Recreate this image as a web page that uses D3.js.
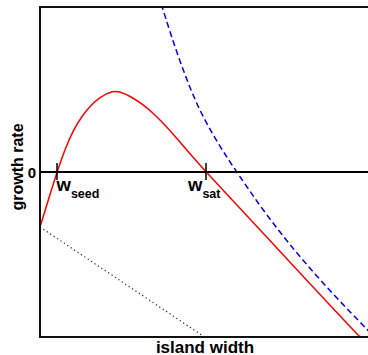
<!DOCTYPE html>
<html>
<head>
<meta charset="utf-8">
<script src="https://cdn.jsdelivr.net/npm/d3@7"></script>
<style>
    body { margin: 0; background: #fff; }
    svg { display: block; }
    text { font-family: "Liberation Sans", Arial, sans-serif; font-weight: bold; fill: #000; }
</style>
</head>
<body>
<svg id="chart" width="368" height="355"></svg>
<script>
// red curve: growth rate vs island width
const growthX = [0, 0.2439, 0.5183, 0.7622, 1.0152, 1.2805, 1.5244, 1.8293, 2.2348, 2.439, 2.7439,
    3.1494, 3.4543, 3.7591, 4.1677, 4.5732, 5.061, 5.8933, 6.9116, 7.9268, 8.9421, 9.7866];
const growthY = [-0.3333, -0.1758, 0, 0.1394, 0.2545, 0.3394, 0.3988, 0.4545, 0.4937, 0.486, 0.4604,
    0.4081, 0.3558, 0.2952, 0.2061, 0.1091, 0, -0.1758, -0.3939, -0.6121, -0.8303, -1.0061];

// blue dashed curve
const dashX = [3.6128, 3.7104, 3.9634, 4.2683, 4.5732, 4.878, 5.2835, 5.6921, 5.997, 6.9116, 7.9268, 8.9421, 9.9604, 10.2134];
const dashY = [1.0727, 1.0091, 0.8485, 0.6697, 0.5091, 0.3697, 0.2212, 0.0909, 0, -0.2648, -0.517, -0.743, -0.9515, -1.003];

// black dotted line
const dotX = [0, 4.97];
const dotY = [-0.3333, -0.994];

// marked zero crossings
const crossNames = ["seed", "sat"];
const crossX = [0.5183, 5.061];

const cfg = {
    left: 40,
    right: 368,
    top: 7,
    bottom: 337,
};

const svg = d3.select("#chart");

const x = d3.scaleLinear().domain([0, 10]).range([cfg.left, cfg.right]);
const y = d3.scaleLinear().domain([-1, 1]).range([cfg.bottom, cfg.top]);

svg.append("defs")
    .append("clipPath")
    .attr("id", "plot-clip")
    .append("rect")
    .attr("x", cfg.left)
    .attr("y", cfg.top)
    .attr("width", cfg.right - cfg.left)
    .attr("height", cfg.bottom - cfg.top);

const plot = svg.append("g").attr("clip-path", "url(#plot-clip)");

// basis curve smooths out reading noise in the points
const line = d3
    .line()
    .x(d => x(d[0]))
    .y(d => y(d[1]))
    .curve(d3.curveBasis);

// dotted
plot.append("path")
    .datum(d3.zip(dotX, dotY))
    .attr("d", d3.line().x(d => x(d[0])).y(d => y(d[1])))
    .attr("fill", "none")
    .attr("stroke", "#222")
    .attr("stroke-width", 1.2)
    .attr("stroke-dasharray", "1.2,2.9");

// blue dashed
plot.append("path")
    .datum(d3.zip(dashX, dashY))
    .attr("d", line)
    .attr("fill", "none")
    .attr("stroke", "#0000ee")
    .attr("stroke-width", 1.5)
    .attr("stroke-dasharray", "6,3.5");

// red
plot.append("path")
    .datum(d3.zip(growthX, growthY))
    .attr("d", line)
    .attr("fill", "none")
    .attr("stroke", "#ff0000")
    .attr("stroke-width", 1.5);

// frame: left, top, bottom
svg.append("path")
    .attr("d", `M${cfg.right},${cfg.top}H${cfg.left}V${cfg.bottom}H${cfg.right}`)
    .attr("fill", "none")
    .attr("stroke", "#111")
    .attr("stroke-width", 2);

// zero line
svg.append("line")
    .attr("x1", cfg.left)
    .attr("x2", cfg.right)
    .attr("y1", y(0))
    .attr("y2", y(0))
    .attr("stroke", "#000")
    .attr("stroke-width", 2);

svg.append("text")
    .attr("x", 32)
    .attr("y", y(0) + 5.5)
    .attr("text-anchor", "middle")
    .attr("font-size", 15)
    .text("0");

// zero-crossing ticks and labels
crossX.forEach((cx, i) => {
    svg.append("line")
        .attr("x1", x(cx))
        .attr("x2", x(cx))
        .attr("y1", y(0) - 9)
        .attr("y2", y(0) + 8)
        .attr("stroke", "#000")
        .attr("stroke-width", 1.5);
    const t = svg.append("text")
        .attr("x", x(cx) + (i === 0 ? -0.5 : -18))
        .attr("y", y(0) + 19)
        .attr("font-size", 18.5);
    t.append("tspan").text("w");
    t.append("tspan")
        .attr("font-size", 12.5)
        .attr("dy", 7)
        .text(crossNames[i]);
});

svg.append("text")
    .attr("x", 205)
    .attr("y", 352.5)
    .attr("text-anchor", "middle")
    .attr("font-size", 17)
    .text("island width");

svg.append("text")
    .attr("transform", `translate(23,${y(0) - 5}) rotate(-90)`)
    .attr("text-anchor", "middle")
    .attr("font-size", 16)
    .text("growth rate");
</script>
</body>
</html>
